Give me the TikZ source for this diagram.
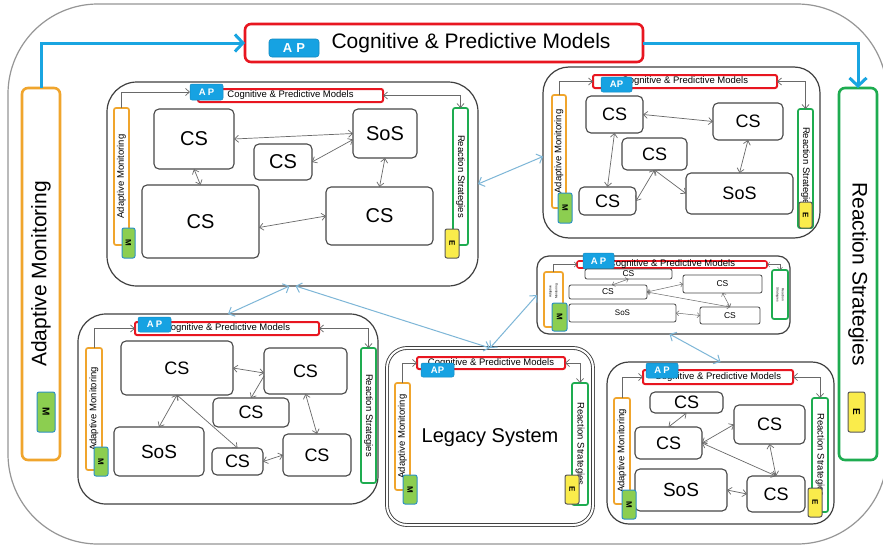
\documentclass[tikz,border=0pt]{standalone}
\usepackage{fontspec}
\usepackage{graphicx}
\setmainfont{Liberation Sans}
\usetikzlibrary{arrows.meta,calc}
\definecolor{cOr}{RGB}{240,165,45}
\definecolor{cGr}{RGB}{30,172,80}
\definecolor{cRd}{RGB}{232,22,32}
\definecolor{cAP}{RGB}{22,162,226}
\definecolor{cMf}{RGB}{140,206,80}
\definecolor{cMb}{RGB}{45,145,195}
\definecolor{cEf}{RGB}{250,236,75}
\definecolor{cBl}{RGB}{25,165,225}
\definecolor{cLb}{RGB}{125,182,215}
\definecolor{cGy}{RGB}{105,105,105}
\definecolor{cOut}{RGB}{150,150,150}
\newcommand\myfs[1]{\fontsize{#1}{#1}\selectfont}
\newcommand\mybox[7]{\node[#2,minimum width={(#5-#3)*1pt},minimum height={(#6-#4)*1pt}] (#1) at ({(#3+#5)/2},{(#4+#6)/2}) {#7};}
\newcommand\amtxt{\rotatebox{90}{\myfs{9.5}Adaptive Monitoring}}
\newcommand\rstxt{\rotatebox{-90}{\myfs{9.5}Reaction Strategies}}
\newcommand\mtxt{\rotatebox{-90}{\myfs{8}\bfseries M}}
\newcommand\etxt{\rotatebox{-90}{\myfs{8}\bfseries E}}
\newcommand\cpm{Cognitive \& Predictive Models}
\begin{document}
\begin{tikzpicture}[x=1pt,y=-1pt,
  every node/.style={inner sep=0pt,outer sep=0pt},
  frame/.style={draw=cOut,line width=1.2pt,rounded corners=90pt},
  mainttl/.style={draw=cRd,line width=2.6pt,rounded corners=6pt,fill=white},
  orbig/.style={draw=cOr,line width=2.6pt,rounded corners=6pt,fill=white},
  grbig/.style={draw=cGr,line width=2.6pt,rounded corners=6pt,fill=white},
  apbig/.style={fill=cAP,draw=cAP!85!black,line width=.6pt,rounded corners=3pt,text=white,font=\bfseries\myfs{13}},
  sub/.style={draw=black!75,line width=1.2pt,fill=white},
  legacy/.style={draw=black!75,line width=.9pt,double=white,double distance=2pt,rounded corners=20pt,fill=white},
  ttl/.style={draw=cRd,line width=2pt,rounded corners=2pt,fill=white},
  ttxt/.style={font=\myfs{9.5}},
  apb/.style={fill=cAP,draw=cAP!85!black,line width=.5pt,rounded corners=2pt,text=white,font=\bfseries\myfs{9.5}},
  orbox/.style={draw=cOr,line width=1.7pt,rounded corners=2pt,fill=white},
  grbox/.style={draw=cGr,line width=1.7pt,rounded corners=2pt,fill=white},
  mb/.style={fill=cMf,draw=cMb,line width=1pt,rounded corners=2pt},
  eb/.style={fill=cEf,draw=black!65,line width=1pt,rounded corners=2pt},
  csbox/.style={draw=black!72,line width=1.1pt,rounded corners=5pt,fill=white},
  barr/.style={draw=cBl,line width=3pt,-{Straight Barb[length=8pt,width=17pt]}},
  lcon/.style={draw=cLb,line width=1pt,{Straight Barb[length=5pt,width=10pt]}-{Straight Barb[length=5pt,width=10pt]}},
  gcon/.style={draw=cGy,line width=.7pt,{Straight Barb[length=4pt,width=7pt]}-{Straight Barb[length=4pt,width=7pt]}},
  gcon1/.style={draw=cGy,line width=.7pt,-{Straight Barb[length=4pt,width=7pt]}},
  gcons/.style={draw=cGy,line width=.5pt,{Straight Barb[length=2.5pt,width=5pt]}-{Straight Barb[length=2.5pt,width=5pt]}},
  gcons1/.style={draw=cGy,line width=.5pt,-{Straight Barb[length=2.5pt,width=5pt]}}
]
\useasboundingbox (0,0) rectangle (883,546);
\fill[white] (0,0) rectangle (883,546);
\mybox{frame}{frame}{8}{4}{887}{544}{}
% main level
\mybox{mt}{mainttl}{245}{24}{643}{62}{}
\node[font=\myfs{21}] (mtt) at (471,43) {\cpm};
\mybox{map}{apbig}{269}{39}{319}{57}{A\hspace{4pt}P}
\mybox{am}{orbig}{22}{88}{60}{460}{\rotatebox{90}{\myfs{21}Adaptive Monitoring}}
\mybox{rs}{grbig}{839}{88}{877}{460}{\rotatebox{-90}{\myfs{21}Reaction Strategies}}
\mybox{mm}{mb}{37}{392}{55}{432}{\rotatebox{-90}{\myfs{10}\bfseries M}}
\mybox{me}{eb}{848}{392}{865}{432}{\rotatebox{-90}{\myfs{10}\bfseries E}}
\draw[barr] (am.north) |- (mt.west);
\draw[barr] (mt.east) -| (rs.north);

% ---------- S1 ----------
\mybox{sub1}{sub,rounded corners=30pt}{107}{82}{478}{286}{}
\mybox{t1}{ttl,label={[ttxt]center:\cpm}}{198}{89}{383}{102}{}
\mybox{ap1}{apb}{190}{84}{223}{100}{A\hspace{2pt}P}
\mybox{am1}{orbox}{114}{108}{129}{245}{\amtxt}
\mybox{rs1}{grbox}{453}{108}{468}{245}{\rstxt}
\mybox{s1a}{csbox,font=\myfs{20}}{154}{109}{234}{169}{CS}
\mybox{s1sos}{csbox,font=\myfs{20}}{353}{109}{417}{158}{SoS}
\mybox{s1b}{csbox,font=\myfs{20}}{254}{144}{312}{180}{CS}
\mybox{s1c}{csbox,font=\myfs{20}}{142}{185}{259}{258}{CS}
\mybox{s1d}{csbox,font=\myfs{20}}{326}{187}{433}{245}{CS}
\draw[gcon] (s1a.east) -- (s1sos.west);
\draw[gcon] ($(s1sos.west)+(0,6)$) -- (s1b.east);
\draw[gcon] (s1a.south) -- (s1c.north);
\draw[gcon] ($(s1c.east)+(0,6)$) -- (s1d.west);
\draw[gcon] (s1sos.south) -- (s1d.north);
\draw[gcon1] (am1.north) |- (ap1.west);
\draw[gcon] (t1.east) -| (rs1.north);
\mybox{m1}{mb}{122}{228}{135}{258}{\mtxt}
\mybox{e1}{eb}{445}{229}{459}{258}{\etxt}

% ---------- S2 ----------
\mybox{sub2}{sub,rounded corners=26pt}{543}{67}{820}{238}{}
\mybox{t2}{ttl,label={[ttxt]center:\cpm}}{593}{75}{777}{88}{}
\mybox{ap2}{apb}{601}{77}{632}{92}{AP}
\mybox{am2}{orbox}{552}{95}{566}{208}{\amtxt}
\mybox{rs2}{grbox}{798}{109}{813}{228}{\rstxt}
\mybox{s2a}{csbox,font=\myfs{18}}{586}{96}{643}{133}{CS}
\mybox{s2b}{csbox,font=\myfs{18}}{713}{103}{783}{140}{CS}
\mybox{s2c}{csbox,font=\myfs{18}}{622}{138}{687}{170}{CS}
\mybox{s2d}{csbox,font=\myfs{18}}{579}{187}{636}{215}{CS}
\mybox{s2sos}{csbox,font=\myfs{18}}{686}{173}{793}{214}{SoS}
\draw[gcon] (s2a.east) -- (s2b.west);
\draw[gcon] (s2a.south) -- (s2d.north);
\draw[gcon] (s2c.south) -- (s2d.east);
\draw[gcon] (s2c.south) -- (s2sos.west);
\draw[gcon] (s2b.south) -- (s2sos.north);
\draw[gcon1] (am2.north) |- (t2.west);
\draw[gcon] (t2.east) -| (rs2.north);
\mybox{m2}{mb}{558}{193}{572}{223}{\mtxt}
\mybox{e2}{eb}{799}{202}{812}{228}{\etxt}

% ---------- S4 (small) ----------
\mybox{sub4}{sub,rounded corners=12pt}{537}{256}{790}{334}{}
\mybox{t4}{ttl,line width=1.6pt,label={[ttxt]center:\cpm}}{577}{261}{767}{268}{}
\mybox{ap4}{apb}{583}{253}{614}{269}{A\hspace{2pt}P}
\mybox{am4}{orbox,label={[yshift=8pt]center:\rotatebox{90}{\myfs{3.2}\shortstack{Adaptive\\Monitoring}}}}{544}{272}{563}{327}{}
\mybox{rs4}{grbox,label={center:\rotatebox{-90}{\myfs{3.2}\shortstack{Reaction\\Strategies}}}}{772}{270}{788}{319}{}
\mybox{s4t}{csbox,line width=.8pt,rounded corners=2pt,font=\myfs{8.5}}{585}{269}{672}{279}{CS}
\mybox{s4l}{csbox,line width=.8pt,rounded corners=2pt,font=\myfs{8.5}}{569}{285}{647}{299}{CS}
\mybox{s4sos}{csbox,line width=.8pt,rounded corners=2pt,font=\myfs{8}}{569}{304}{676}{322}{SoS}
\mybox{s4rt}{csbox,line width=.8pt,rounded corners=2pt,font=\myfs{8.5}}{683}{275}{762}{293}{CS}
\mybox{s4rb}{csbox,line width=.8pt,rounded corners=2pt,font=\myfs{8.5}}{700}{307}{760}{324}{CS}
\draw[gcons] (s4t.south) -- ($(s4l.north)+(4,0)$);
\draw[gcons] (s4l.east) -- (s4rt.west);
\draw[gcons] (s4l.east) -- (s4rb.north);
\draw[gcons] (s4rt.south) -- (s4rb.north);
\draw[gcons] (s4sos.east) -- (s4rb.west);
\draw[gcons1] (am4.north) |- (t4.west);
\draw[gcons] (t4.east) -| (rs4.north);
\mybox{m4}{mb}{552}{303}{567}{331}{\mtxt}

% ---------- S3 ----------
\mybox{sub3}{sub,rounded corners=28pt}{78}{314}{378}{504}{}
\mybox{t3}{ttl,label={[ttxt]center:\cpm}}{135}{322}{319}{335}{}
\mybox{ap3}{apb}{138}{317}{171}{332}{A\hspace{2pt}P}
\mybox{am3}{orbox}{86}{348}{102}{470}{\amtxt}
\mybox{rs3}{grbox}{361}{348}{376}{483}{\rstxt}
\mybox{s3a}{csbox,font=\myfs{18}}{121}{341}{233}{395}{CS}
\mybox{s3b}{csbox,font=\myfs{18}}{264}{348}{347}{394}{CS}
\mybox{s3c}{csbox,font=\myfs{18}}{213}{398}{289}{427}{CS}
\mybox{s3sos}{csbox,font=\myfs{19}}{114}{427}{204}{476}{SoS}
\mybox{s3d}{csbox,font=\myfs{18}}{212}{448}{263}{475}{CS}
\mybox{s3e}{csbox,font=\myfs{18}}{283}{434}{351}{476}{CS}
\draw[gcon] (s3a.east) -- ($(s3b.west)+(0,2)$);
\draw[gcon1] ($(s3b.west)+(0,5)$) -- (s3c.north);
\draw[gcon] (s3a.south) -- (s3sos.north);
\draw[gcon] (s3a.south) -- (s3d.north);
\draw[gcon] (s3d.east) -- (s3e.west);
\draw[gcon] (s3b.south) -- (s3e.north);
\draw[gcon1] (am3.north) |- (t3.west);
\draw[gcon] (t3.east) -| (rs3.north);
\mybox{m3}{mb}{94}{447}{108}{476}{\mtxt}

% ---------- Legacy ----------
\mybox{sub5}{legacy}{387}{348}{593}{525}{}
\node[font=\myfs{20}] (lgt) at (490,438) {Legacy System};
\mybox{t5}{ttl,label={[ttxt]center:\cpm}}{417}{357}{565}{369}{}
\mybox{ap5}{apb}{421}{363}{454}{377}{AP}
\mybox{am5}{orbox}{395}{383}{410}{490}{\amtxt}
\mybox{rs5}{grbox}{572}{383}{588}{505}{\rstxt}
\draw[gcon1] (am5.north) |- (t5.west);
\draw[gcon] (t5.east) -| (rs5.north);
\mybox{m5}{mb}{403}{475}{417}{504}{\mtxt}
\mybox{e5}{eb}{565}{475}{579}{504}{\etxt}

% ---------- S6 ----------
\mybox{sub6}{sub,rounded corners=22pt}{607}{362}{834}{524}{}
\mybox{t6}{ttl,label={[ttxt]center:\cpm}}{643}{370}{793}{384}{}
\mybox{ap6}{apb}{646}{363}{678}{378}{A\hspace{2pt}P}
\mybox{am6}{orbox}{614}{398}{630}{504}{\amtxt}
\mybox{rs6}{grbox}{812}{398}{828}{512}{\rstxt}
\mybox{s6t}{csbox,font=\myfs{18}}{650}{392}{723}{413}{CS}
\mybox{s6l}{csbox,font=\myfs{18}}{635}{427}{702}{459}{CS}
\mybox{s6rt}{csbox,font=\myfs{18}}{734}{405}{805}{444}{CS}
\mybox{s6sos}{csbox,font=\myfs{19}}{635}{469}{727}{511}{SoS}
\mybox{s6rb}{csbox,font=\myfs{18}}{747}{476}{805}{512}{CS}
\draw[gcon] (s6t.south) -- (s6l.north);
\draw[gcon] (s6l.east) -- (s6rt.west);
\draw[gcon] (s6l.east) -- (s6rb.north);
\draw[gcon] (s6rt.south) -- (s6rb.north);
\draw[gcon] (s6sos.east) -- (s6rb.west);
\draw[gcon1] (am6.north) |- (t6.west);
\draw[gcon] (t6.east) -| (rs6.north);
\mybox{m6}{mb}{622}{490}{636}{519}{\mtxt}
\mybox{e6}{eb}{808}{488}{822}{517}{\etxt}

% ---------- links between systems ----------
\draw[lcon] (sub1.east) -- ($(sub2.west)+(0,4)$);
\draw[lcon] ($(sub1.south)+(-3,0)$) -- (sub3.north);
\draw[lcon] ($(sub1.south)+(3,0)$) -- (sub5.north);
\draw[lcon] (sub5.north) -- (sub4.west);
\draw[lcon] ($(sub4.south)+(6,0)$) -- (sub6.north);
\end{tikzpicture}
\end{document}
